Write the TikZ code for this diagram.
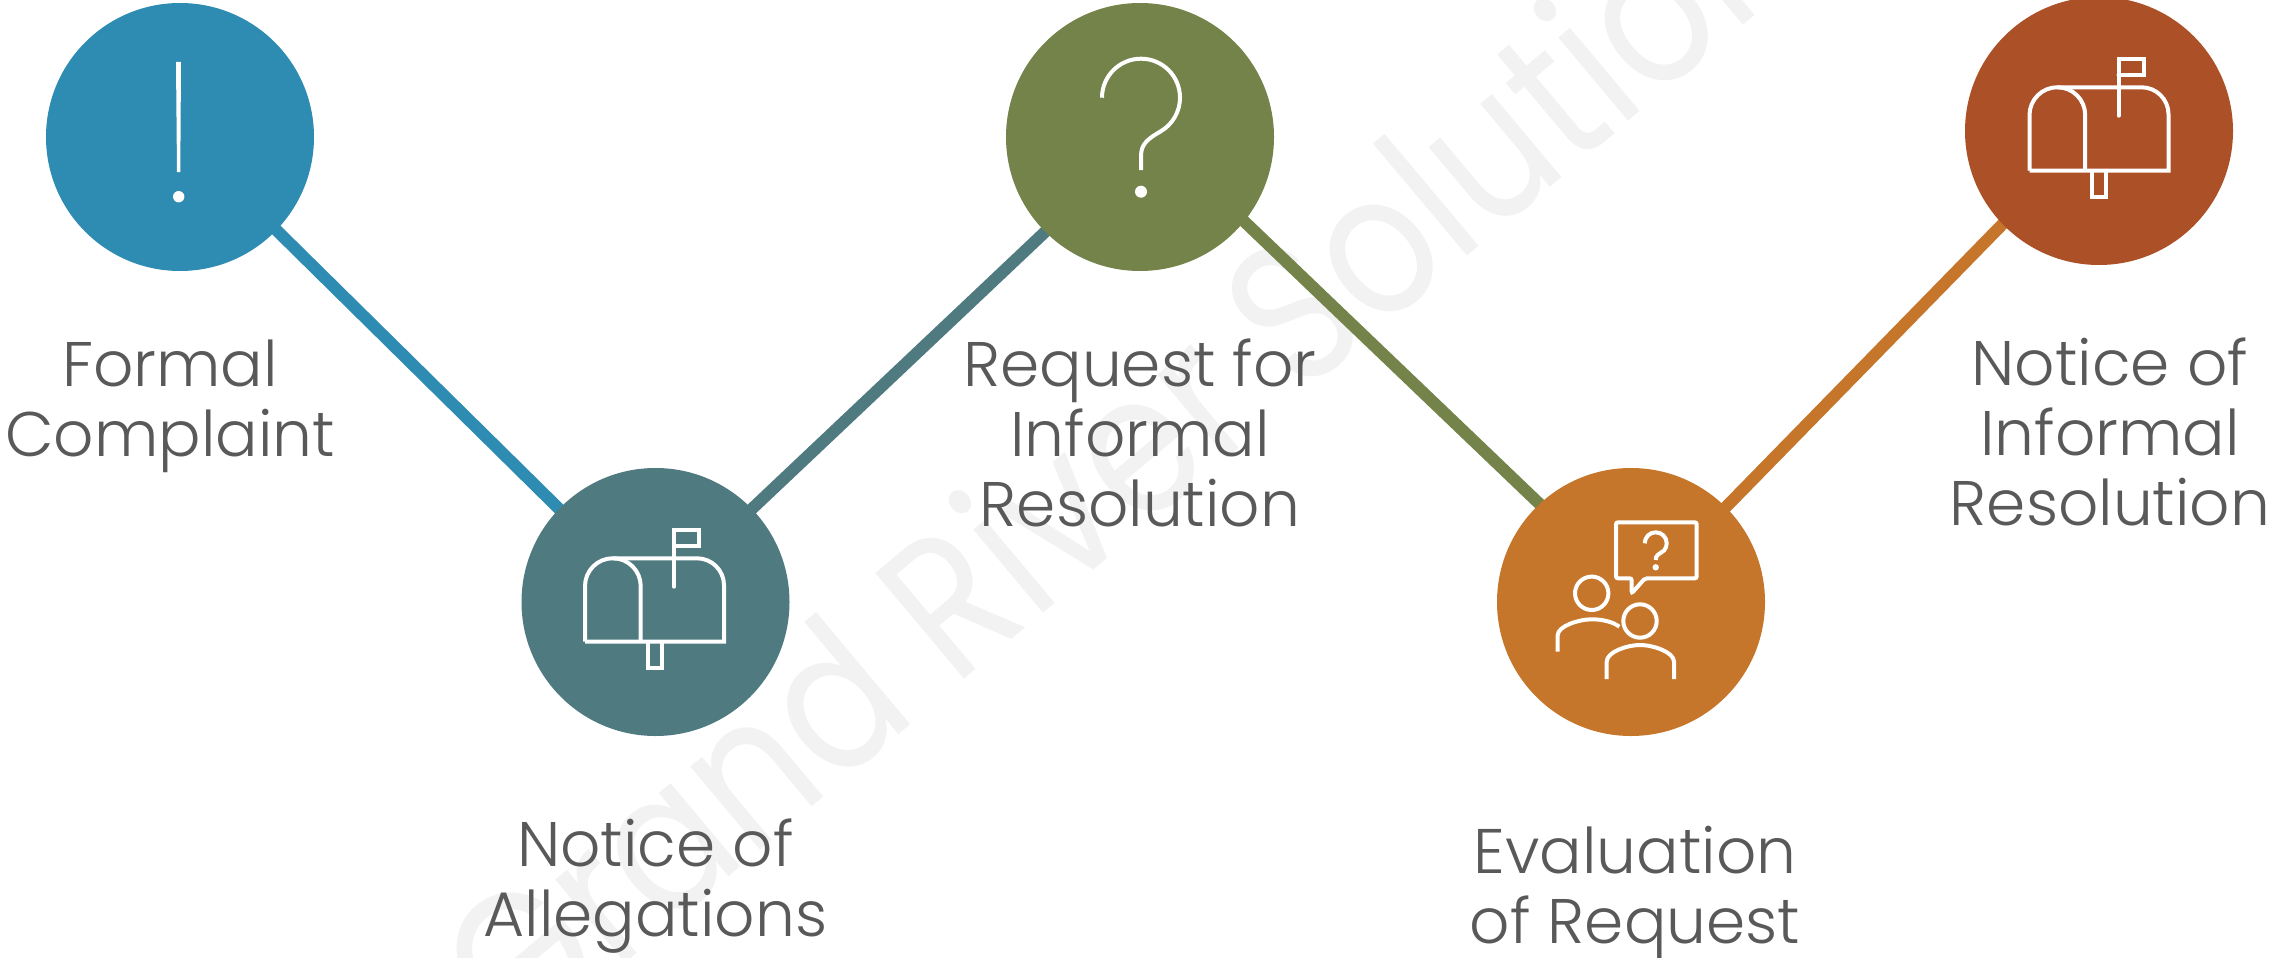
\documentclass[tikz,border=0pt]{standalone}
\usepackage{fontspec}
\setmainfont{Poppins}[UprightFont=* Light]
\newfontfamily\markfont{Poppins}
\usepackage{tikz}
\usetikzlibrary{shapes,arrows.meta,backgrounds}
\definecolor{stepblue}{HTML}{2E8BB2}
\definecolor{stepteal}{HTML}{4E7A80}
\definecolor{stepgreen}{HTML}{748349}
\definecolor{steporange}{HTML}{C5762A}
\definecolor{stepred}{HTML}{AC5028}
\definecolor{labelgray}{HTML}{595959}
\definecolor{markgray}{HTML}{F2F2F2}
\tikzstyle{disc} = [circle, draw=none, minimum size=268pt, inner sep=0pt, outer sep=0pt]
\tikzstyle{caption} = [text=labelgray, align=center, inner sep=0pt, font=\fontsize{63}{70}\selectfont]
\tikzstyle{line} = [draw, line width=12pt, shorten <=-4pt, shorten >=-4pt]
\tikzstyle{icon} = [draw=white, line width=4pt]
\tikzset{
  mailbox/.pic={
    \draw [icon] (-70.5,-39.7) -- (-70.5,15.9) arc (180:0:27.85) -- (-14.8,-39.7);
    \draw [icon] (-42.6,43.7) -- (41.5,43.7) arc (90:0:27) -- (68.5,-39.7) -- (-70.5,-39.7);
    \draw [icon] (-7.8,-39.7) -- (-7.8,-66.3) -- (6.2,-66.3) -- (6.2,-39.7);
    \draw [icon, line cap=round] (18.5,15.3) -- (18.5,72) -- (43.5,72) -- (43.5,56.3) -- (18.5,56.3);
  },
  query/.pic={
    \draw [icon] (-38,39.3) arc (180:-60:39) .. controls (8,-1.7) and (1,-7) .. (1,-19) -- (1,-33);
    \fill [white] (1,-54.7) circle (6);
  },
  alert/.pic={
    \fill [white] (-4,75) -- (1,75) -- (0.3,-35) -- (-3,-35) -- cycle;
    \fill [white] (-1.3,-59.7) circle (5.7);
  },
  people/.pic={
    \draw [icon, rounded corners=2pt] (14,23.7) -- (65.7,23.7) -- (65.7,79.7) -- (-15,79.7) -- (-15,23.7) -- (0.7,23.7) -- (0.7,8.7) -- cycle;
    \draw [icon] (13.7,58.7) arc (180:-40:11) .. controls (27,47) and (24.7,47) .. (24.7,42);
    \fill [white] (24.7,34.7) circle (3.2);
    \draw [icon] (-39.3,8.7) circle (16.7);
    \draw [icon] (-73.3,-49.7) -- (-73.3,-33.3) .. controls (-73.3,-24) and (-52,-17.3) .. (-39.3,-17.3) .. controls (-28,-17.3) and (-18,-20) .. (-11.7,-24.7);
    \draw [icon] (9,-19) circle (16.7);
    \draw [icon] (-24.3,-77) -- (-24.3,-59.7) .. controls (-24.3,-50) and (-4,-43) .. (9,-43) .. controls (22,-43) and (43,-50) .. (43,-59.7) -- (43,-77);
  }
}

\begin{document}
\begin{tikzpicture}[x=1pt, y=1pt, node distance=475.5pt]
  \useasboundingbox (0,0) rectangle (2279,-958);
   % Place nodes
    \begin{pgfonlayer}{background}
    \node [text=markgray, rotate=40, xscale=0.85, anchor=base west, inner sep=0pt, font=\markfont\fontsize{198}{198}\selectfont] (mark) at (515,-1056) {Grand River Solutions};
    \end{pgfonlayer}
    \node [disc, fill=stepblue] (complaint) at (180,-137) {};
    \node [disc, fill=stepteal, right of=complaint, yshift=-465pt] (allegations) {};
    \node [disc, fill=stepgreen, right of=allegations, node distance=484.5pt, yshift=465pt] (request) {};
    \node [disc, fill=steporange, right of=request, node distance=491pt, yshift=-465pt] (evaluation) {};
    \node [disc, fill=stepred, right of=evaluation, node distance=468pt, yshift=471pt] (resolution) {};
   % Icons
    \pic at (complaint) {alert};
    \pic at (allegations) {mailbox};
    \pic at (request) {query};
    \pic at (evaluation) {people};
    \pic at ([xshift=1pt]resolution) {mailbox};
   % Captions
    \node [caption, below of=complaint, node distance=269pt, xshift=-10pt] (complaintlabel) {Formal\\Complaint};
    \node [caption, below of=allegations, node distance=284pt] (allegationslabel) {Notice of\\Allegations};
    \node [caption, below of=request, node distance=296pt] (requestlabel) {Request for\\Informal\\Resolution};
    \node [caption, below of=evaluation, node distance=291pt, xshift=4pt] (evaluationlabel) {Evaluation\\of Request};
    \node [caption, below of=resolution, node distance=301pt, xshift=11pt] (resolutionlabel) {Notice of\\Informal\\Resolution};
   % Draw edges
    \begin{pgfonlayer}{background}
    \path [line, draw=stepblue] (complaint.-44.3) -- (allegations.136.5);
    \path [line, draw=stepteal] (allegations.44) -- (request.225.4);
    \path [line, draw=stepgreen] (request.-39.3) -- (evaluation.133.8);
    \path [line, draw=steporange] (evaluation.45.5) -- (resolution.224.6);
    \end{pgfonlayer}
  \end{tikzpicture}
\end{document}
